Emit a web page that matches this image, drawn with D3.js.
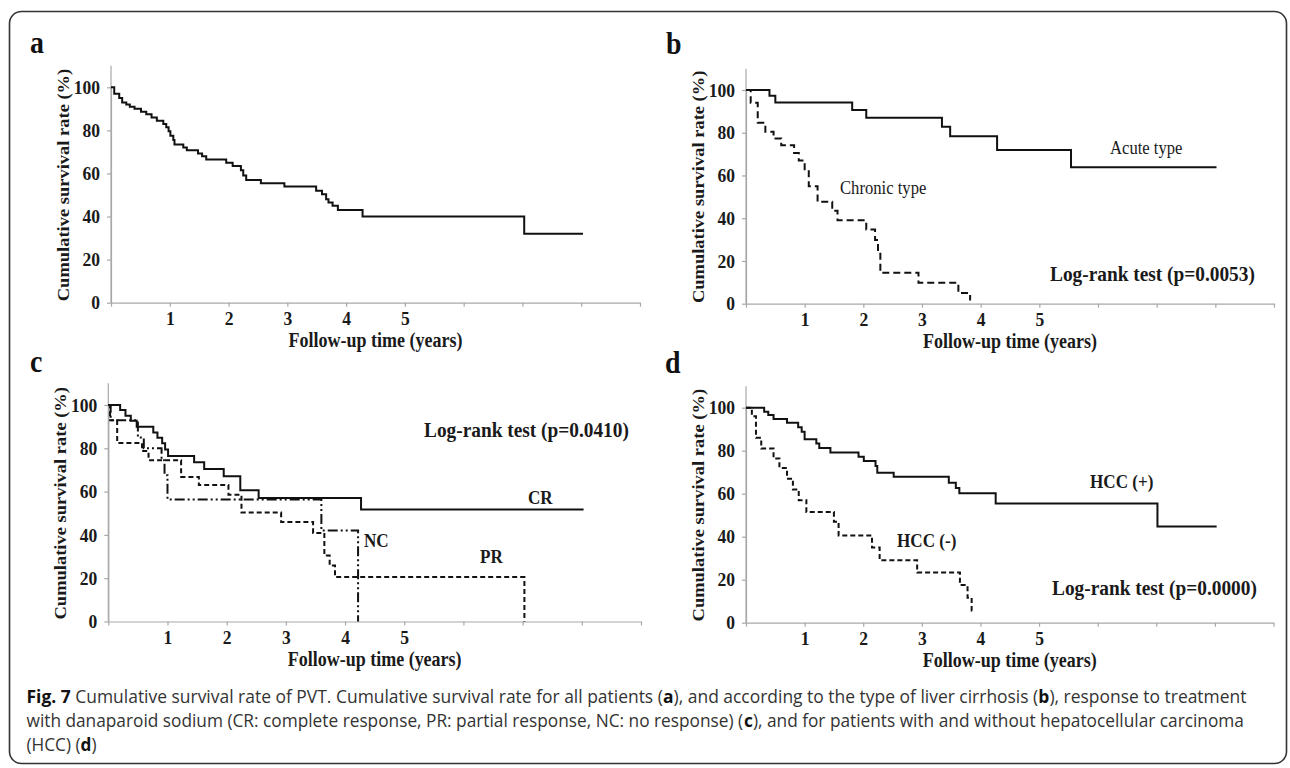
<!DOCTYPE html>
<html>
<head>
<meta charset="utf-8">
<script src="https://cdn.jsdelivr.net/npm/d3@7"></script>
<style>
  body { margin: 0; background: #fff; }
  svg text { font-family: "Liberation Serif", "Times New Roman", serif; }
  .tick text { font-size: 19.5px; font-weight: bold; fill: #1a1a1a; }
  .domain, .tick line { stroke: #a8a8a8; stroke-width: 1.2; }
  svg text.caption { font-family: "Open Sans", "Noto Sans", sans-serif; font-size: 18px; white-space: pre; }
</style>
</head>
<body>
<div id="chart"></div>
<script>
/*  Data (years, % surviving)  */
var xTicks = [0, 1, 2, 3, 4, 5, 6, 7, 8, 9];
var xTickLabels = [1, 2, 3, 4, 5];
var yTicks = [0, 20, 40, 60, 80, 100];

// a: all patients
var allTime = [0, 0.055, 0.14, 0.19, 0.26, 0.32, 0.40, 0.51, 0.60, 0.69, 0.78, 0.89, 0.94, 0.98, 1.01, 1.06, 1.08, 1.23, 1.29, 1.48, 1.55, 1.62, 1.96, 2.07, 2.21, 2.25, 2.30, 2.55, 2.95, 3.49, 3.59, 3.66, 3.70, 3.77, 3.86, 4.28, 7.03, 8.03];
var allSurv = [100, 97, 95, 93, 92, 91, 90, 88.7, 87.5, 86, 84.5, 83, 81.5, 79.6, 77.5, 75.5, 73.5, 72, 70.8, 69.3, 68, 66.5, 65, 63.5, 61.5, 59, 57, 55.5, 53.9, 52, 50.3, 48, 46.5, 45, 43, 40, 32, 32];

// b: acute / chronic type
var acuteTime = [0, 0.40, 0.50, 1.81, 2.05, 3.34, 3.48, 4.28, 5.54, 8.02];
var acuteSurv = [100, 97.3, 94.2, 90.6, 87.0, 82.8, 78.4, 71.9, 63.9, 63.9];
var chronicTime = [0, 0.08, 0.2, 0.33, 0.47, 0.6, 0.82, 0.9, 1.0, 1.07, 1.22, 1.47, 1.56, 2.05, 2.2, 2.25, 2.29, 2.94, 3.62, 3.82];
var chronicSurv = [100, 94, 84.7, 80.5, 77.3, 74.2, 70.5, 67, 62, 55, 47.7, 43.5, 39, 34.7, 29.8, 24.5, 14.5, 9.8, 5, 1.5];

// c: CR / PR / NC
var crTime = [0, 0.2, 0.29, 0.38, 0.48, 0.76, 0.83, 0.91, 0.96, 1.01, 1.45, 1.62, 1.95, 2.23, 2.54, 4.27, 8.03];
var crSurv = [100, 97.7, 95, 92.7, 90, 87.3, 84.9, 82.3, 79.5, 76.5, 73.5, 70.4, 67.1, 60.6, 57.1, 51.7, 51.7];
var prTime = [0, 0.03, 0.15, 0.57, 0.68, 1.23, 1.53, 2.03, 2.25, 2.92, 3.46, 3.65, 3.74, 3.83, 7.03];
var prSurv = [100, 93, 82.5, 78.7, 74.5, 66.8, 63, 58.5, 50.3, 46, 40.9, 30.5, 25.9, 20.5, 0];
var ncTime = [0, 0.04, 0.5, 0.6, 0.9, 0.95, 1.0, 3.6, 4.22];
var ncSurv = [100, 93, 85, 80, 74.5, 67.6, 56.3, 42, 0];

// d: HCC (+) / HCC (-)
var hccPosTime = [0, 0.31, 0.38, 0.47, 0.7, 0.89, 0.95, 1.0, 1.2, 1.25, 1.44, 1.92, 2.01, 2.21, 2.24, 2.52, 3.46, 3.58, 3.64, 4.26, 7.02, 8.03];
var hccPosSurv = [100, 98.1, 96.6, 94.7, 93, 90.9, 88.8, 85.3, 83.4, 81.2, 79.2, 77.2, 75.2, 72.9, 69.8, 67.9, 65.1, 62.6, 60.2, 55.5, 44.7, 44.7];
var hccNegTime = [0, 0.1, 0.17, 0.26, 0.47, 0.57, 0.7, 0.8, 0.9, 1.03, 1.5, 1.58, 2.15, 2.28, 2.92, 3.65, 3.78, 3.85, 3.88];
var hccNegSurv = [100, 96, 86, 81, 76.4, 72, 67, 62, 57, 51.5, 47, 40.6, 35, 29, 23.3, 17.5, 11.6, 5.7, 5.7];


/*  Helpers  */
var SX = 0.9;   // the figure's lettering is a little condensed
var svg = d3.select("#chart").append("svg")
            .attr("width", 1290)
            .attr("height", 768);

function Text(x, y, str, attrs)
{
  var t = svg.append("text")
             .attr("transform", "translate(" + x + "," + y + ") scale(" + SX + ",1)")
             .text(str);
  for (var k in attrs) t.attr(k, attrs[k]);
  return t;
}

function zip(ts, ss)
{
  return ts.map(function(t, i){ return [t, ss[i]]; });
}

// one KM panel: x0/x1 = ends of the time axis, yZero/yHundred = pixel rows of 0 % and 100 %
function panel(p)
{
  var x = d3.scaleLinear().domain([0, 9]).range([p.x0, p.x1]);
  var y = d3.scaleLinear().domain([0, 100]).range([p.yZero, p.yHundred]);
  var g = svg.append("g");

  var gx = g.append("g")
   .attr("transform", "translate(0," + p.yZero + ")")
   .call(d3.axisBottom(x).tickValues(xTicks).tickSize(4).tickSizeOuter(0).tickPadding(4.5)
           .tickFormat(function(d){ return xTickLabels.indexOf(d) >= 0 ? d : ""; }));
  gx.selectAll(".tick text").attr("transform", "scale(" + SX + ",1)");

  var gy = g.append("g")
   .attr("transform", "translate(" + p.x0 + ",0)")
   .call(d3.axisLeft(y).tickValues(yTicks).tickSize(4).tickSizeOuter(0).tickPadding(7));
  gy.selectAll(".tick text").attr("x", -11 / SX).attr("transform", "scale(" + SX + ",1)");

  // y axis line runs up to 110 %
  g.append("line")
   .attr("x1", p.x0).attr("x2", p.x0)
   .attr("y1", y(0)).attr("y2", y(110))
   .attr("stroke", "#a8a8a8").attr("stroke-width", 1.2);

  var line = d3.line()
               .x(function(d){ return x(d[0]); })
               .y(function(d){ return y(d[1]); })
               .curve(d3.curveStepAfter);

  p.series.forEach(function(s){
    g.append("path")
     .attr("d", line(zip(s.t, s.s)))
     .attr("fill", "none")
     .attr("stroke", "#111")
     .attr("stroke-width", 2)
     .attr("stroke-dasharray", s.dash || null);
  });

  Text(p.letterX, p.yZero - 249.5, p.letter, {"font-size": "31px", "font-weight": "bold", "fill": "#111"});

  Text((p.x0 + p.x1) / 2, p.yZero + 44.5, "Follow-up time (years)",
       {"font-size": "20px", "font-weight": "bold", "text-anchor": "middle", "fill": "#1a1a1a"});

  var cy = (y(0) + y(100)) / 2 - 10;
  svg.append("text")
     .attr("transform", "translate(" + (p.x0 - 42) + "," + cy + ") scale(" + SX + ",1) rotate(-90)")
     .attr("font-size", "18.5px").attr("font-weight", "bold")
     .attr("text-anchor", "middle").attr("fill", "#1a1a1a")
     .text("Cumulative survival rate (%)");

  p.notes.forEach(function(n){
    Text(n.x, n.y, n.text, {"font-size": n.size, "font-weight": n.bold ? "bold" : "normal", "fill": "#1a1a1a"});
  });
}


/*  Panels  */
panel({
  letter: "a", letterX: 30, x0: 111, x1: 640, yZero: 302.7, yHundred: 87.3,
  series: [{t: allTime, s: allSurv}],
  notes: []
});

panel({
  letter: "b", letterX: 666, x0: 746, x1: 1274, yZero: 303.7, yHundred: 90,
  series: [{t: acuteTime, s: acuteSurv}, {t: chronicTime, s: chronicSurv, dash: "7,4"}],
  notes: [
    {x: 1110, y: 154, text: "Acute type", size: "18.5px"},
    {x: 840, y: 194, text: "Chronic type", size: "18.5px"},
    {x: 1050, y: 281, text: "Log-rank test (p=0.0053)", size: "21.5px", bold: true}
  ]
});

panel({
  letter: "c", letterX: 30, x0: 108.3, x1: 641, yZero: 621.5, yHundred: 405,
  series: [{t: crTime, s: crSurv}, {t: prTime, s: prSurv, dash: "5,3"},
           {t: ncTime, s: ncSurv, dash: "10,3,2,3,2,3"}],
  notes: [
    {x: 424, y: 437, text: "Log-rank test (p=0.0410)", size: "21.5px", bold: true},
    {x: 528, y: 504, text: "CR", size: "19px", bold: true},
    {x: 364, y: 547, text: "NC", size: "19px", bold: true},
    {x: 480, y: 563, text: "PR", size: "19px", bold: true}
  ]
});

panel({
  letter: "d", letterX: 665, x0: 746, x1: 1273.5, yZero: 622.7, yHundred: 407.7,
  series: [{t: hccPosTime, s: hccPosSurv}, {t: hccNegTime, s: hccNegSurv, dash: "5,3"}],
  notes: [
    {x: 1090, y: 488, text: "HCC (+)", size: "19px", bold: true},
    {x: 897, y: 547, text: "HCC (-)", size: "19px", bold: true},
    {x: 1052, y: 595, text: "Log-rank test (p=0.0000)", size: "21.5px", bold: true}
  ]
});


/*  Frame and caption  */
svg.append("rect")
   .attr("x", 9.5).attr("y", 11.5)
   .attr("width", 1277).attr("height", 752)
   .attr("rx", 12).attr("ry", 12)
   .attr("fill", "none").attr("stroke", "#333").attr("stroke-width", 1.6);

var captionLines = [
  [["Fig. 7", 1], [" Cumulative survival rate of PVT. Cumulative survival rate for all patients (", 0], ["a", 1],
   ["), and according to the type of liver cirrhosis (", 0], ["b", 1], ["), response to treatment", 0]],
  [["with danaparoid sodium (CR: complete response, PR: partial response, NC: no response) (", 0], ["c", 1],
   ["), and for patients with and without hepatocellular carcinoma", 0]],
  [["(HCC) (", 0], ["d", 1], [")", 0]]
];
var captionY = [703, 727, 751];
var captionW = [1220, 1218, 70];

// each line: pieces laid side by side, then the whole line squeezed to its width
captionLines.forEach(function(parts, i){
  var g = svg.append("g");
  var cx = 0;
  parts.forEach(function(p){
    var t = g.append("text")
             .attr("class", "caption")
             .attr("xml:space", "preserve")
             .attr("x", cx)
             .attr("font-weight", p[1] ? "bold" : "normal")
             .attr("fill", p[1] ? "#111" : "#333")
             .text(p[0]);
    cx += t.node().getComputedTextLength();
  });
  g.attr("transform", "translate(26.5," + captionY[i] + ") scale(" + (captionW[i] / cx) + ",1)");
});
</script>
</body>
</html>
